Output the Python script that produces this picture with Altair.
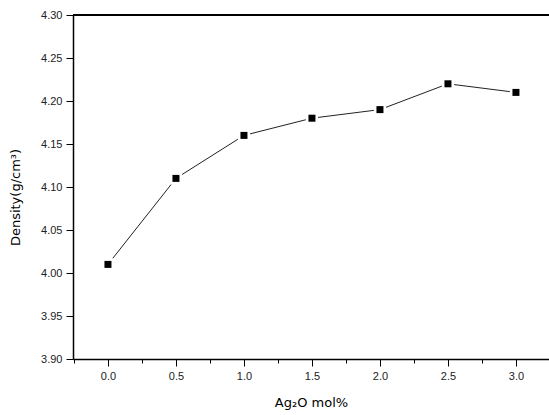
import altair as alt
import pandas as pd

ag2o = [0.0, 0.5, 1.0, 1.5, 2.0, 2.5, 3.0]
density = [4.01, 4.11, 4.16, 4.18, 4.19, 4.22, 4.21]

x_ticks = [-0.25, 0.0, 0.25, 0.5, 0.75, 1.0, 1.25, 1.5, 1.75, 2.0, 2.25, 2.5, 2.75, 3.0]
y_ticks = [3.9, 3.925, 3.95, 3.975, 4.0, 4.025, 4.05, 4.075, 4.1, 4.125, 4.15, 4.175, 4.2, 4.225, 4.25, 4.275, 4.3]

df = pd.DataFrame({"x": ag2o, "y": density})

FONT = "Liberation Sans"
TFONT = "DejaVu Sans"

xmaj = "abs(datum.value*2 - round(datum.value*2)) < 0.01"
ymaj = "abs(datum.value*20 - round(datum.value*20)) < 0.01"

x_axis = alt.Axis(
    values=x_ticks,
    labelExpr=f"{xmaj} ? format(datum.value, '.1f') : ''",
    tickSize={"expr": f"{xmaj} ? 7 : 4"},
    labelOverlap=False,
    grid=False,
    domainColor="black",
    domainWidth=1.5,
    tickColor="black",
    labelColor="#222222",
    labelFont=FONT,
    labelFontSize=11,
    labelPadding=4,
    title="Ag₂O mol%",
    titleFont=TFONT,
    titleFontSize=13,
    titleFontWeight="normal",
    titleColor="black",
    titleX=238,
    titleY=37,
)
y_axis = alt.Axis(
    values=y_ticks,
    labelExpr=f"{ymaj} ? format(datum.value, '.2f') : ''",
    tickSize={"expr": f"{ymaj} ? 7 : 4"},
    labelOverlap=False,
    grid=False,
    domainColor="black",
    domainWidth=1.5,
    tickColor="black",
    labelColor="#222222",
    labelFont=FONT,
    labelFontSize=11,
    labelPadding=4,
    title="Density(g/cm³)",
    titleFont=TFONT,
    titleFontSize=13,
    titleFontWeight="normal",
    titleColor="black",
    titleX=-51,
    titleY=182,
)

xs = alt.Scale(domain=[-0.257, 3.243], nice=False, zero=False)
ys = alt.Scale(domain=[3.9, 4.3], nice=False, zero=False)

base = alt.Chart(df).encode(
    x=alt.X("x:Q", scale=xs, axis=x_axis),
    y=alt.Y("y:Q", scale=ys, axis=y_axis),
)

line = base.mark_line(color="#222222", strokeWidth=1)
gap = base.mark_point(shape="square", filled=True, size=150, color="white", opacity=1)
pts = base.mark_point(shape="square", filled=True, size=49, color="black", opacity=1)
top = alt.Chart(df).mark_rule(color="black", strokeWidth=1.5).encode(
    y=alt.datum(y_ticks[-1])
)

chart = (
    alt.layer(line, gap, pts, top)
    .properties(
        width=476,
        height=344,
        autosize=alt.AutoSizeParams(type="none"),
        padding={"left": 73, "top": 15, "right": 0, "bottom": 56},
        background="white",
    )
    .configure_view(stroke=None)
)

chart.save("out.html", embed_options={"renderer": "svg", "actions": False})
